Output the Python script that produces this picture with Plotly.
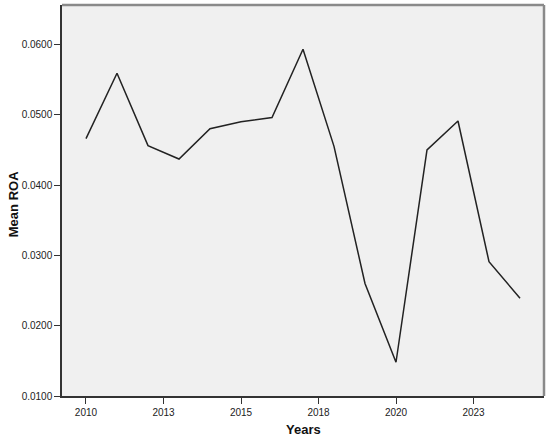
import plotly.graph_objects as go

# %%
anos = list(range(2010, 2025))
media_roa = [0.0466, 0.0559, 0.0456, 0.0437, 0.0480, 0.0490, 0.0496, 0.0593,
             0.0455, 0.0260, 0.0148, 0.0450, 0.0491, 0.0291, 0.0239]

x_tickvals = [2010, 2012.5, 2015, 2017.5, 2020, 2022.5]
x_ticktext = ['2010', '2013', '2015', '2018', '2020', '2023']
y_tickvals = [0.01, 0.02, 0.03, 0.04, 0.05, 0.06]

# %%
fig = go.Figure()
fig.add_trace(go.Scatter(
    x=anos, y=media_roa, mode='lines',
    line=dict(color='#222222', width=1.5),
    showlegend=False,
))

# top/right frame in grey, SPSS style
fig.add_shape(type='line', xref='x domain', yref='y domain', x0=0, x1=1, y0=1, y1=1,
              line=dict(color='#8a8a8a', width=2.5))
fig.add_shape(type='line', xref='x domain', yref='y domain', x0=1, x1=1, y0=0, y1=1,
              line=dict(color='#8a8a8a', width=2.5))

# axis titles
fig.add_annotation(text='<b>Years</b>', xref='paper', yref='paper', x=0.5, y=-0.085,
                   yanchor='middle', showarrow=False, font=dict(size=13, color='#111111'))
fig.add_annotation(text='<b>Mean ROA</b>', xref='paper', yref='paper', x=-0.1,
                   y=0.49, xanchor='center', textangle=-90, showarrow=False,
                   font=dict(size=13, color='#111111'))

fig.update_layout(
    width=550, height=439,
    margin=dict(l=62, r=6, t=5, b=43),
    paper_bgcolor='white',
    plot_bgcolor='#f0f0f0',
    font=dict(family='Arial, Liberation Sans, sans-serif', size=10, color='#222222'),
)
fig.update_xaxes(
    range=[2009.226, 2024.774],
    tickvals=x_tickvals, ticktext=x_ticktext,
    showgrid=False, zeroline=False, automargin=False,
    showline=True, linecolor='#333333', linewidth=1.5,
    ticks='outside', ticklen=6, tickcolor='#333333', tickwidth=1,
)
fig.update_yaxes(
    range=[0.01, 0.0656],
    tickvals=y_tickvals, tickformat='.4f',
    showgrid=False, zeroline=False, automargin=False,
    showline=True, linecolor='#333333', linewidth=1.5,
    ticks='outside', ticklen=6, tickcolor='#333333', tickwidth=1,
)

# page body has an 8px default margin; drop it so the figure fills the window
fig.write_html('out.html', config={'displayModeBar': False},
               post_script="document.body.style.margin='0';")
